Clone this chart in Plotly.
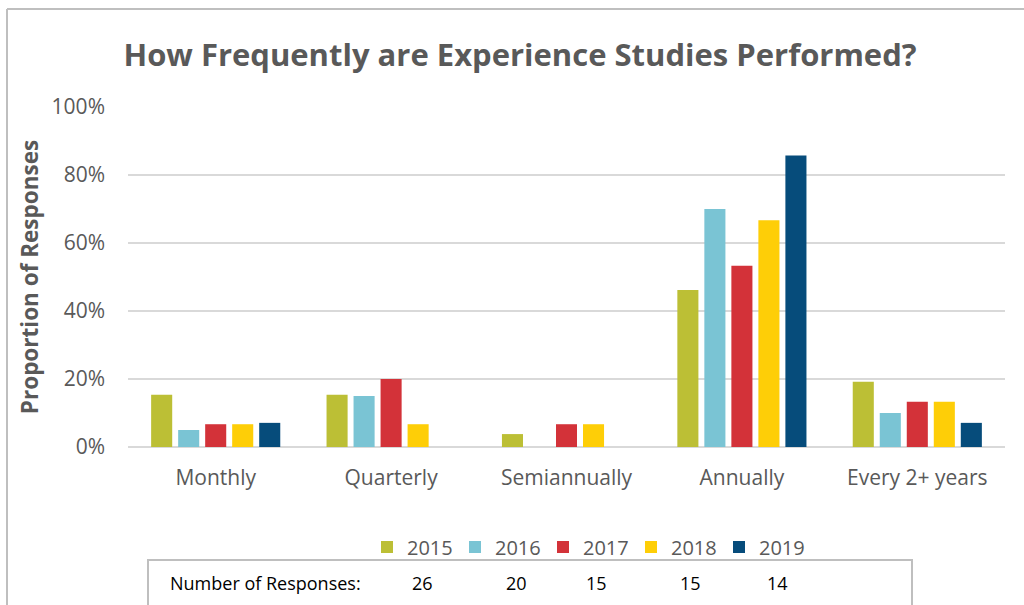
import plotly.graph_objects as go

# Survey data: share of responses (%) by study frequency and survey year
categories = ["Monthly", "Quarterly", "Semiannually", "Annually", "Every 2+ years"]
years = ["2015", "2016", "2017", "2018", "2019"]
share_2015 = [15.4, 15.4, 3.8, 46.2, 19.2]
share_2016 = [5.0, 15.0, 0.0, 70.0, 10.0]
share_2017 = [6.7, 20.0, 6.7, 53.3, 13.3]
share_2018 = [6.7, 6.7, 6.7, 66.7, 13.3]
share_2019 = [7.1, 0.0, 0.0, 85.7, 7.1]
responses = [26, 20, 15, 15, 14]
y_ticks = [0, 20, 40, 60, 80, 100]

series = [share_2015, share_2016, share_2017, share_2018, share_2019]
colors = ["#BCBF35", "#7AC4D4", "#D33239", "#FECE07", "#064C7B"]

W, H = 1024, 605
L, R, T, B = 128, 19, 107, 158
PW, PH = W - L - R, H - T - B


def px_x(p):
    return (p - L) / PW


def px_y(p):
    return (H - B - p) / PH


GRAY = "#595959"
FONT = "Open Sans, sans-serif"

fig = go.Figure()
for name, vals, col in zip(years, series, colors):
    fig.add_trace(go.Bar(
        x=categories, y=vals, name=name,
        marker=dict(color=col, line=dict(width=0)),
    ))

fig.update_layout(
    width=W, height=H,
    margin=dict(l=L, r=R, t=T, b=B),
    paper_bgcolor="white", plot_bgcolor="white",
    barmode="group", bargap=0.23, bargroupgap=0.22,
    font=dict(family=FONT, color=GRAY, size=20),
    title=dict(
        text="<b>How Frequently are Experience Studies Performed?</b>",
        x=px_x(520), xref="paper", xanchor="center",
        y=1 - 55 / H, yanchor="middle",
        font=dict(family=FONT, size=31, color=GRAY),
    ),
    xaxis=dict(
        showgrid=False, zeroline=False, showline=False, ticks="",
        tickfont=dict(size=21, color=GRAY), ticklabelstandoff=16,
    ),
    yaxis=dict(
        range=[0, 100], tickvals=y_ticks,
        ticktext=[f"{v}%" for v in y_ticks],
        showgrid=True, gridcolor="#D9D9D9", gridwidth=2,
        zeroline=True, zerolinecolor="#D9D9D9", zerolinewidth=2,
        showline=False, ticks="", ticklabelstandoff=22,
        tickfont=dict(size=21, color=GRAY),
        title=dict(text="<b>Proportion of Responses</b>",
                   font=dict(size=22.5, color=GRAY), standoff=6),
    ),
    legend=dict(
        orientation="h", x=px_x(367), xanchor="left",
        y=px_y(547), yanchor="middle",
        font=dict(size=20, color=GRAY),
        entrywidth=43, entrywidthmode="pixels",
        itemclick=False, itemdoubleclick=False,
        bgcolor="rgba(0,0,0,0)",
    ),
)

# Outer chart frame (left and top edges)
fig.add_shape(type="line", xref="paper", yref="paper",
              x0=px_x(7), x1=px_x(7), y0=px_y(9), y1=px_y(H + 5),
              line=dict(color="#BFBFBF", width=2))
fig.add_shape(type="line", xref="paper", yref="paper",
              x0=px_x(7), x1=px_x(W + 5), y0=px_y(9), y1=px_y(9),
              line=dict(color="#BFBFBF", width=2))

# Response-count table box below the legend
fig.add_shape(type="rect", xref="paper", yref="paper",
              x0=px_x(148), x1=px_x(912), y0=px_y(560), y1=px_y(H + 10),
              line=dict(color="#BFBFBF", width=2), fillcolor="rgba(0,0,0,0)")

TABLE_FONT = "Open Sans, sans-serif"
fig.add_annotation(xref="paper", yref="paper", x=px_x(168), y=px_y(583),
                   xanchor="left", yanchor="middle", showarrow=False,
                   text="Number of Responses:",
                   font=dict(family=TABLE_FONT, size=18, color="black"))
count_x = [422, 516, 596, 690, 777]
for cx, n in zip(count_x, responses):
    fig.add_annotation(xref="paper", yref="paper", x=px_x(cx), y=px_y(583),
                       xanchor="center", yanchor="middle", showarrow=False,
                       text=str(n),
                       font=dict(family=TABLE_FONT, size=18, color="black"))

fig.write_html("out.html")
